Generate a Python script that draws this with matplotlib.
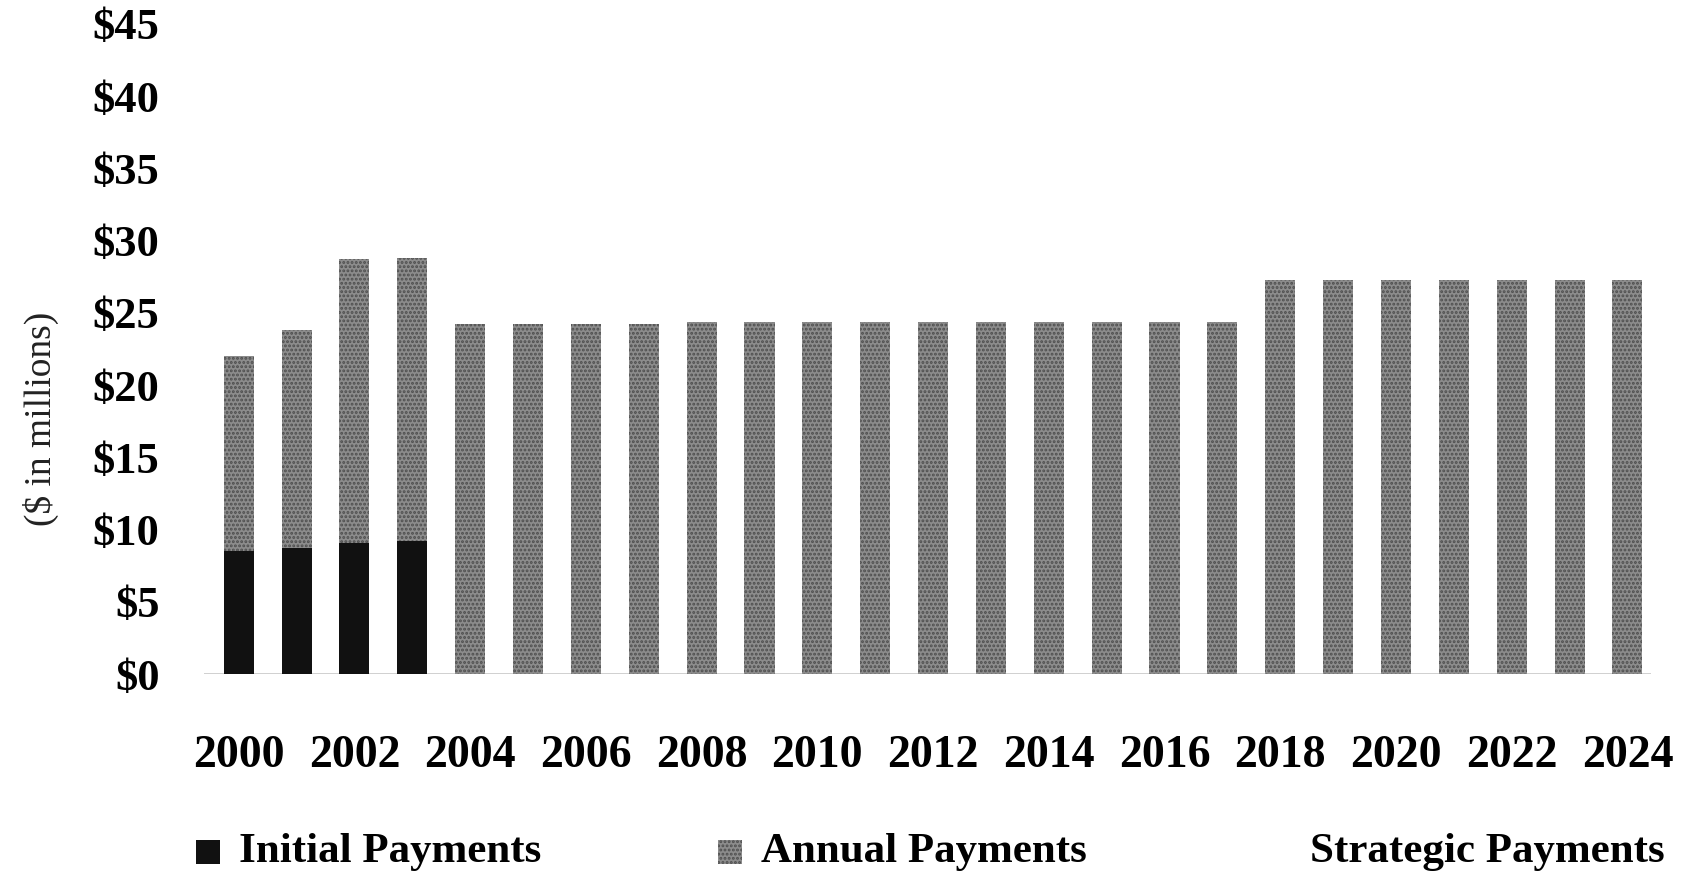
import numpy as np
import matplotlib
matplotlib.use("Agg")
import matplotlib.pyplot as plt
from matplotlib.patches import Rectangle

years = list(range(2000, 2025))
initial = [8.5, 8.7, 9.1, 9.2] + [0.0] * 21
totals = [22.0, 23.8, 28.7, 28.8,
          24.2, 24.2, 24.2, 24.2,
          24.4, 24.4, 24.4, 24.4, 24.4, 24.4, 24.4, 24.4, 24.4, 24.4,
          27.3, 27.3, 27.3, 27.3, 27.3, 27.3, 27.3]
annual = [round(t - i, 1) for t, i in zip(totals, initial)]
strategic = [0.0] * 25

tick_years = list(range(2000, 2025, 2))
y_ticks = list(range(0, 50, 5))

serif = "Liberation Serif"
plt.rcParams["hatch.linewidth"] = 1.4

W, H = 1686, 882
fig = plt.figure(figsize=(W / 100, H / 100), dpi=100)
ax = fig.add_axes([0.121, 0.2358, 0.858, 0.737])

gray = "#8c8c8c"
speckle = "#4e4e4e"
ax.bar(years, initial, width=0.52, color="#111111", linewidth=0)
ax.bar(years, annual, width=0.52, bottom=initial, color=gray,
       edgecolor=speckle, hatch="....", linewidth=0)
ax.bar(years, strategic, width=0.52, bottom=totals, color="white", linewidth=0)

ax.axhline(0, color="#c8c8c8", linewidth=1.2, zorder=0)

ax.set_xlim(1999.4, 2024.4)
ax.set_ylim(0, 45)
ax.set_xticks(tick_years)
ax.set_xticklabels([str(y) for y in tick_years], fontsize=33,
                   fontweight="bold", family=serif)
ax.set_yticks(y_ticks)
ax.set_yticklabels([f"${v}" for v in y_ticks], fontsize=32,
                   fontweight="bold", family=serif)
ax.tick_params(axis="x", length=0, pad=44)
ax.tick_params(axis="y", length=0, pad=32)
for side in ax.spines.values():
    side.set_visible(False)

fig.text(0.024, 0.525, "($ in millions)", rotation=90, ha="center",
         va="center", fontsize=27, family=serif, color="#222222")

# legend row laid out by hand: (marker left px, text left px, label, marker style)
legend_y = 1 - 852 / H
box = 24
items = [
    (196, 239, "Initial Payments", dict(facecolor="#111111", linewidth=0)),
    (718, 761, "Annual Payments",
     dict(facecolor=gray, edgecolor=speckle, hatch="....", linewidth=0)),
    (None, 1310, "Strategic Payments", None),
]
for mx, tx, label, style in items:
    if style is not None:
        fig.add_artist(Rectangle((mx / W, legend_y - box / 2 / H), box / W,
                                 box / H, transform=fig.transFigure, **style))
    fig.text(tx / W, legend_y, label, ha="left", va="center", fontsize=31,
             fontweight="bold", family=serif)

fig.savefig("out.png", dpi=100, facecolor="white")
